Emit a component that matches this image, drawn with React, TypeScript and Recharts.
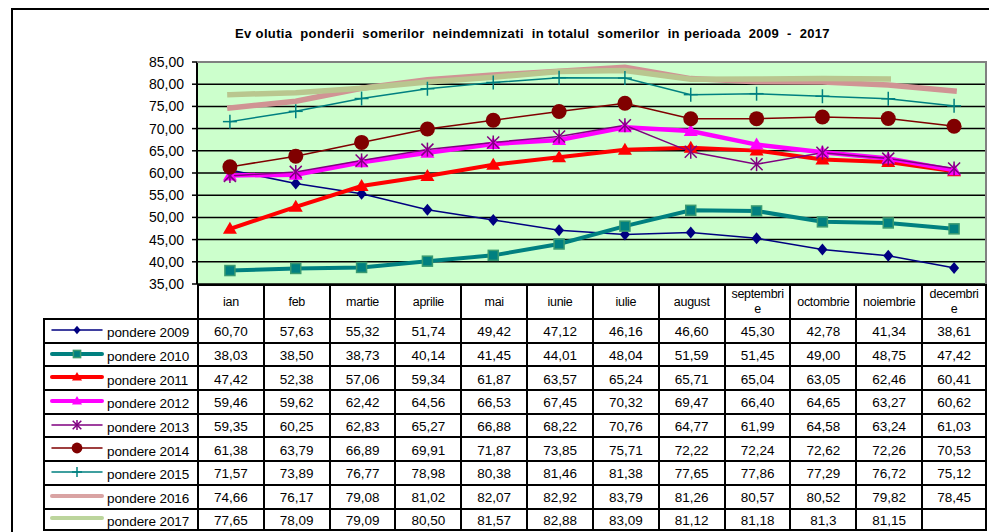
import React from 'react';
import { LineChart, Line, XAxis, YAxis, CartesianGrid } from 'recharts';

const months = ['ian', 'feb', 'martie', 'aprilie', 'mai', 'iunie', 'iulie', 'august', 'septembrie', 'octombrie', 'noiembrie', 'decembrie'];
// Excel wraps two of the month names in the header cells
const wrapped: Record<string, string> = { septembrie: 'septembri\ne', decembrie: 'decembri\ne' };

const p2009 = [60.7, 57.63, 55.32, 51.74, 49.42, 47.12, 46.16, 46.6, 45.3, 42.78, 41.34, 38.61];
const p2010 = [38.03, 38.5, 38.73, 40.14, 41.45, 44.01, 48.04, 51.59, 51.45, 49.0, 48.75, 47.42];
const p2011 = [47.42, 52.38, 57.06, 59.34, 61.87, 63.57, 65.24, 65.71, 65.04, 63.05, 62.46, 60.41];
const p2012 = [59.46, 59.62, 62.42, 64.56, 66.53, 67.45, 70.32, 69.47, 66.4, 64.65, 63.27, 60.62];
const p2013 = [59.35, 60.25, 62.83, 65.27, 66.88, 68.22, 70.76, 64.77, 61.99, 64.58, 63.24, 61.03];
const p2014 = [61.38, 63.79, 66.89, 69.91, 71.87, 73.85, 75.71, 72.22, 72.24, 72.62, 72.26, 70.53];
const p2015 = [71.57, 73.89, 76.77, 78.98, 80.38, 81.46, 81.38, 77.65, 77.86, 77.29, 76.72, 75.12];
const p2016 = [74.66, 76.17, 79.08, 81.02, 82.07, 82.92, 83.79, 81.26, 80.57, 80.52, 79.82, 78.45];
const p2017 = [77.65, 78.09, 79.09, 80.5, 81.57, 82.88, 83.09, 81.12, 81.18, 81.3, 81.15, null];

const yTicks = [35, 40, 45, 50, 55, 60, 65, 70, 75, 80, 85];

const FONT = '"Liberation Sans", Arial, sans-serif';

type MarkerKind = 'diamond' | 'square' | 'triangle' | 'asterisk' | 'circle' | 'plus' | 'none';

function Marker({ kind, cx, cy, color, k = 1 }: { kind: MarkerKind; cx: number; cy: number; color: string; k?: number }) {
  switch (kind) {
    case 'diamond':
      return <path d={`M${cx},${cy - 6 * k}L${cx + 5 * k},${cy}L${cx},${cy + 6 * k}L${cx - 5 * k},${cy}Z`} fill={color} />;
    case 'square':
      return <rect x={cx - 5 * k} y={cy - 5 * k} width={10 * k} height={10 * k} fill={color} stroke="#3a9a70" strokeWidth={1.5} />;
    case 'triangle':
      return <path d={`M${cx},${cy - 7 * k}L${cx + 7 * k},${cy + 5 * k}L${cx - 7 * k},${cy + 5 * k}Z`} fill={color} />;
    case 'asterisk':
      return (
        <g stroke={color} strokeWidth={1.5}>
          <line x1={cx - 6 * k} y1={cy - 6 * k} x2={cx + 6 * k} y2={cy + 6 * k} />
          <line x1={cx - 6 * k} y1={cy + 6 * k} x2={cx + 6 * k} y2={cy - 6 * k} />
          <line x1={cx} y1={cy - 7 * k} x2={cx} y2={cy + 7 * k} />
        </g>
      );
    case 'circle':
      return <circle cx={cx} cy={cy} r={7.5 * k} fill={color} />;
    case 'plus':
      return (
        <g stroke={color} strokeWidth={1.5}>
          <line x1={cx} y1={cy - 7 * k} x2={cx} y2={cy + 7 * k} />
          <line x1={cx - 7 * k} y1={cy} x2={cx + 7 * k} y2={cy} />
        </g>
      );
    default:
      return null;
  }
}

interface Series {
  name: string;
  values: (number | null)[];
  color: string;
  legendColor?: string;
  width: number;
  marker: MarkerKind;
}

const series: Series[] = [
  { name: 'pondere 2009', values: p2009, color: '#000080', width: 1.5, marker: 'diamond' },
  { name: 'pondere 2010', values: p2010, color: '#008080', width: 4, marker: 'square' },
  { name: 'pondere 2011', values: p2011, color: '#ff0000', width: 4, marker: 'triangle' },
  { name: 'pondere 2012', values: p2012, color: '#ff00ff', width: 4.5, marker: 'triangle' },
  { name: 'pondere 2013', values: p2013, color: '#800080', width: 1.5, marker: 'asterisk' },
  { name: 'pondere 2014', values: p2014, color: '#800000', width: 1.5, marker: 'circle' },
  { name: 'pondere 2015', values: p2015, color: '#008080', width: 1.5, marker: 'plus' },
  { name: 'pondere 2016', values: p2016, color: '#d09494', legendColor: '#d9a3a3', width: 5.5, marker: 'none' },
  { name: 'pondere 2017', values: p2017, color: '#b9c68f', legendColor: '#bcd59c', width: 5.5, marker: 'none' },
];

// cells that the source sheet shows with a single decimal
const oneDecimal: Record<string, number[]> = { 'pondere 2017': [9] };

const fmt = (name: string, v: number | null, i: number) => {
  if (v == null) return '';
  const s = (oneDecimal[name] || []).includes(i) ? String(v) : v.toFixed(2);
  return s.replace('.', ',');
};

const data = months.map((m, i) => {
  const row: any = { month: m };
  series.forEach(s => { row[s.name] = s.values[i]; });
  return row;
});

const W = 989;
const H = 524;
const PLOT_LEFT = 189;
const PLOT_RIGHT = 979;
const COL_W = (PLOT_RIGHT - PLOT_LEFT) / months.length;
const TABLE_TOP = 276;
const HEAD_H = 34;
const ROW_H = 23.7;
const LEGEND_W = 154;
const BORDER = '2px solid #000';

function LegendIcon({ s }: { s: Series }) {
  const c = s.legendColor || s.color;
  const w = Math.min(s.width, 4);
  return (
    <svg width={54} height={14} style={{ display: 'block', flex: 'none' }}>
      <line x1={2} y1={6} x2={52} y2={6} stroke={c} strokeWidth={w} strokeLinecap="round" />
      <Marker kind={s.marker} cx={27} cy={6} color={s.color} k={0.72} />
    </svg>
  );
}

export default function App() {
  return (
    <div style={{ position: 'relative', width: W, height: H, overflow: 'hidden', fontFamily: FONT, background: '#fff' }}>
      {/* outer chart frame */}
      <div style={{ position: 'absolute', left: 3, top: 0, width: 1100, height: 700, borderTop: BORDER, borderLeft: BORDER }} />

      <div style={{ position: 'absolute', left: 0, top: 18, width: 1049, textAlign: 'center', fontSize: 13, letterSpacing: 0.35, fontWeight: 'bold', whiteSpace: 'pre', color: '#000' }}>
        {'Ev olutia  ponderii  somerilor  neindemnizati  in totalul  somerilor  in perioada  2009  -  2017'}
      </div>

      <div style={{ position: 'absolute', left: 0, top: 0 }}>
        <LineChart width={W} height={300} data={data} margin={{ top: 54, right: W - PLOT_RIGHT, bottom: 24, left: 0 }}>
          <CartesianGrid vertical={false} stroke="#000" strokeWidth={1.5} fill="#ccffcc" fillOpacity={1} />
          <XAxis dataKey="month" hide padding={{ left: COL_W / 2, right: COL_W / 2 }} />
          <YAxis
            width={PLOT_LEFT}
            domain={[35, 85]}
            ticks={yTicks}
            interval={0}
            tickFormatter={(v: number) => v.toFixed(2).replace('.', ',')}
            tick={{ fill: '#000', fontSize: 14, fontFamily: FONT }}
            tickSize={5}
            tickMargin={8}
            axisLine={{ stroke: '#000', strokeWidth: 2 }}
            tickLine={{ stroke: '#000', strokeWidth: 1.5 }}
          />
          {series.map(s => (
            <Line
              key={s.name}
              dataKey={s.name}
              type="linear"
              stroke={s.color}
              strokeWidth={s.width}
              strokeLinecap="square"
              isAnimationActive={false}
              activeDot={false}
              dot={s.marker === 'none' ? false : (p: any) => (
                p.cx == null || p.value == null
                  ? <g key={p.index} />
                  : <Marker key={p.index} kind={s.marker} cx={p.cx} cy={p.cy} color={s.color} />
              )}
            />
          ))}
        </LineChart>
      </div>

      {/* plot area border (top/right in grey, like Excel) */}
      <div style={{ position: 'absolute', left: PLOT_LEFT, top: 53, width: PLOT_RIGHT - PLOT_LEFT, height: 223, borderTop: '2px solid #808080', borderRight: '2px solid #808080', boxSizing: 'border-box', pointerEvents: 'none' }} />

      {/* data table */}
      <div style={{ position: 'absolute', left: PLOT_LEFT - LEGEND_W, top: TABLE_TOP, width: LEGEND_W + PLOT_RIGHT - PLOT_LEFT, fontSize: 13.5, color: '#000' }}>
        <div style={{ display: 'flex', height: HEAD_H }}>
          <div style={{ width: LEGEND_W, flex: 'none' }} />
          {months.map((m, i) => (
            <div key={m} style={{
              width: COL_W, flex: 'none', boxSizing: 'border-box', borderTop: BORDER, borderLeft: BORDER,
              borderRight: i === months.length - 1 ? BORDER : undefined,
              display: 'flex', alignItems: 'center', justifyContent: 'center', textAlign: 'center',
              whiteSpace: 'pre-line', lineHeight: '15px', fontSize: 12.5, letterSpacing: -0.3,
            }}>
              {wrapped[m] || m}
            </div>
          ))}
        </div>
        {series.map((s, r) => (
          <div key={s.name} style={{ display: 'flex', height: ROW_H, boxSizing: 'border-box', borderTop: BORDER, borderLeft: BORDER, borderBottom: r === series.length - 1 ? BORDER : undefined }}>
            <div style={{ width: LEGEND_W - 2, flex: 'none', display: 'flex', alignItems: 'center', paddingLeft: 5, boxSizing: 'border-box', letterSpacing: -0.1 }}>
              <LegendIcon s={s} />
              <span style={{ marginLeft: 3, marginTop: 4 }}>{s.name}</span>
            </div>
            {s.values.map((v, i) => (
              <div key={i} style={{
                width: COL_W, flex: 'none', boxSizing: 'border-box', borderLeft: BORDER,
                borderRight: i === months.length - 1 ? BORDER : undefined,
                display: 'flex', alignItems: 'center', justifyContent: 'center', paddingTop: 2,
              }}>
                {fmt(s.name, v, i)}
              </div>
            ))}
          </div>
        ))}
      </div>
    </div>
  );
}
